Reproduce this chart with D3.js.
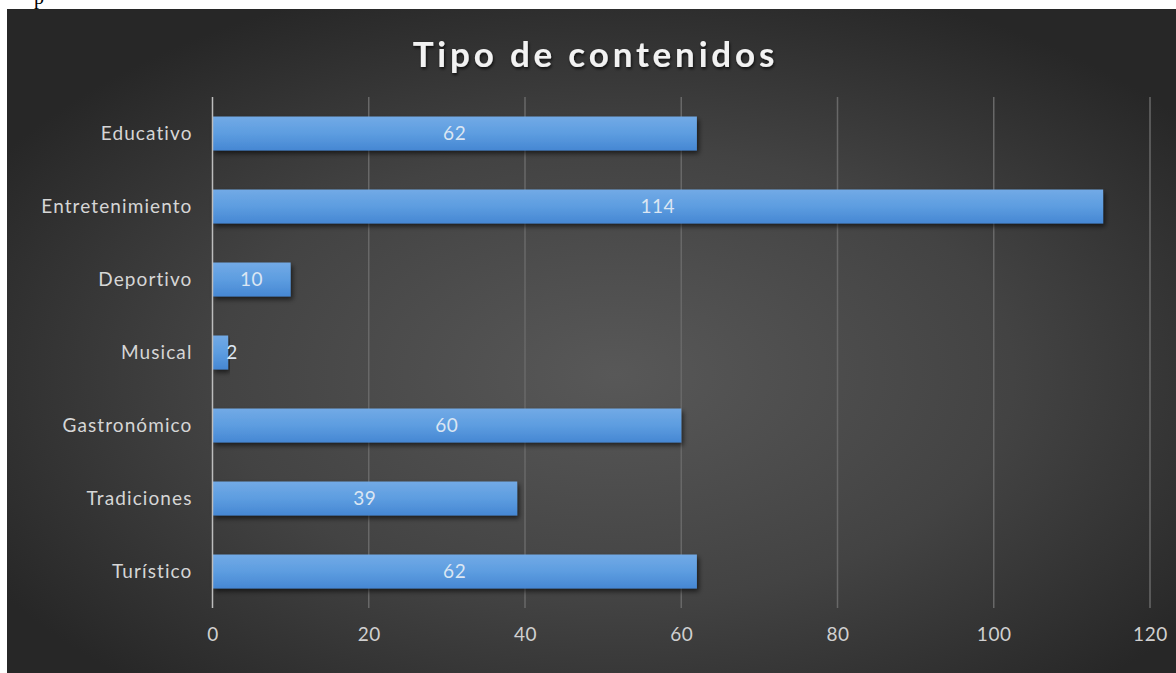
<!DOCTYPE html>
<html>
<head>
<meta charset="utf-8">
<script src="https://cdn.jsdelivr.net/npm/d3@7"></script>
<style>
  html, body { margin: 0; padding: 0; background: #ffffff; }
  svg { display: block; }
</style>
</head>
<body>
<svg id="chart" width="1176" height="673"></svg>
<script>
// Categories (top to bottom) and their counts
const categories = ["Educativo", "Entretenimiento", "Deportivo", "Musical", "Gastronómico", "Tradiciones", "Turístico"];
const values = [62, 114, 10, 2, 60, 39, 62];
const xTicks = [0, 20, 40, 60, 80, 100, 120];
const title = "Tipo de contenidos";

const W = 1176, H = 673;
const panel = { x: 7, y: 9, w: W - 7, h: H - 9 };
const plot = { left: 212.5, right: 1150, top: 97, bottom: 608 };

const svg = d3.select("#chart");
const defs = svg.append("defs");

// Dark panel background, lighter towards the middle
const bg = defs.append("radialGradient").attr("id", "bg")
  .attr("cx", "52%").attr("cy", "55%").attr("r", "62%");
bg.append("stop").attr("offset", "0%").attr("stop-color", "#585858");
bg.append("stop").attr("offset", "55%").attr("stop-color", "#434343");
bg.append("stop").attr("offset", "100%").attr("stop-color", "#272727");

// Bar fill: light top edge fading to a deeper blue
const barGrad = defs.append("linearGradient").attr("id", "barFill")
  .attr("x1", 0).attr("y1", 0).attr("x2", 0).attr("y2", 1);
barGrad.append("stop").attr("offset", "0%").attr("stop-color", "#72aae6");
barGrad.append("stop").attr("offset", "50%").attr("stop-color", "#5d9de0");
barGrad.append("stop").attr("offset", "100%").attr("stop-color", "#4687d3");

const shadow = defs.append("filter").attr("id", "barShadow")
  .attr("x", "-5%").attr("y", "-20%").attr("width", "115%").attr("height", "160%");
shadow.append("feDropShadow").attr("dx", 2).attr("dy", 3).attr("stdDeviation", 2.5)
  .attr("flood-color", "#000").attr("flood-opacity", 0.6);

const titleShadow = defs.append("filter").attr("id", "titleShadow");
titleShadow.append("feDropShadow").attr("dx", 1).attr("dy", 2).attr("stdDeviation", 1.5)
  .attr("flood-color", "#000").attr("flood-opacity", 0.7);

// Stray text fragment above the panel
svg.append("text").attr("x", 34).attr("y", 4)
  .attr("font-family", "Liberation Serif, serif").attr("font-size", 20)
  .attr("fill", "#000").text("p");

svg.append("rect")
  .attr("x", panel.x).attr("y", panel.y).attr("width", panel.w).attr("height", panel.h)
  .attr("fill", "url(#bg)");

const x = d3.scaleLinear().domain([0, 120]).range([plot.left, plot.right]);
const y = d3.scaleBand().domain(categories).range([plot.top, plot.bottom]).paddingInner(0.535).paddingOuter(0.2675);

const font = "Lato, 'Open Sans', sans-serif";
const labelSize = 19;

// Vertical gridlines
svg.append("g").selectAll("line").data(xTicks.filter(d => d !== 0)).join("line")
  .attr("x1", d => x(d)).attr("x2", d => x(d))
  .attr("y1", plot.top).attr("y2", plot.bottom)
  .attr("stroke", "#686868").attr("stroke-width", 1.5);

// Bars
svg.append("g").selectAll("rect").data(categories).join("rect")
  .attr("x", x(0))
  .attr("y", d => y(d))
  .attr("width", (d, i) => x(values[i]) - x(0))
  .attr("height", y.bandwidth())
  .attr("fill", "url(#barFill)")
  .attr("filter", "url(#barShadow)");

// Category axis line
svg.append("line")
  .attr("x1", x(0)).attr("x2", x(0))
  .attr("y1", plot.top).attr("y2", plot.bottom)
  .attr("stroke", "#bdbdbd").attr("stroke-width", 1.5);

// Value axis (bottom)
const xAxis = svg.append("g")
  .attr("transform", `translate(0,${plot.bottom})`)
  .call(d3.axisBottom(x).tickValues(xTicks).tickSize(0).tickPadding(20));
xAxis.select(".domain").remove();
xAxis.selectAll("text")
  .attr("font-family", font).attr("font-size", labelSize)
  .attr("letter-spacing", 0.6).attr("fill", "#d0d0d0");

// Category axis (left)
const yAxis = svg.append("g")
  .attr("transform", `translate(${x(0) - 20},0)`)
  .call(d3.axisLeft(y).tickSize(0).tickPadding(0));
yAxis.select(".domain").remove();
yAxis.selectAll("text")
  .attr("font-family", font).attr("font-size", labelSize)
  .attr("letter-spacing", 1.1).attr("fill", "#d6d6d6");

// Value labels inside the bars
svg.append("g").selectAll("text").data(categories).join("text")
  .each(function (d, i) {
    const w = x(values[i]) - x(0);
    const t = d3.select(this)
      .attr("y", y(d) + y.bandwidth() / 2)
      .attr("dy", "0.35em")
      .attr("font-family", font).attr("font-size", labelSize)
      .attr("letter-spacing", 0.6)
      .attr("fill", "#dbe6f3")
      .text(values[i]);
    if (w < 30) {
      t.attr("x", x(values[i]) - 2).attr("text-anchor", "start");
    } else {
      t.attr("x", x(0) + w / 2).attr("text-anchor", "middle");
    }
  });

// Title
const titleSpacing = 3.8;
svg.append("text")
  .attr("x", 593.5 + titleSpacing / 2).attr("y", 67)
  .attr("text-anchor", "middle")
  .attr("font-family", font).attr("font-weight", "bold")
  .attr("font-size", 35).attr("letter-spacing", titleSpacing)
  .attr("fill", "#f2f2f2")
  .attr("filter", "url(#titleShadow)")
  .text(title);
</script>
</body>
</html>
